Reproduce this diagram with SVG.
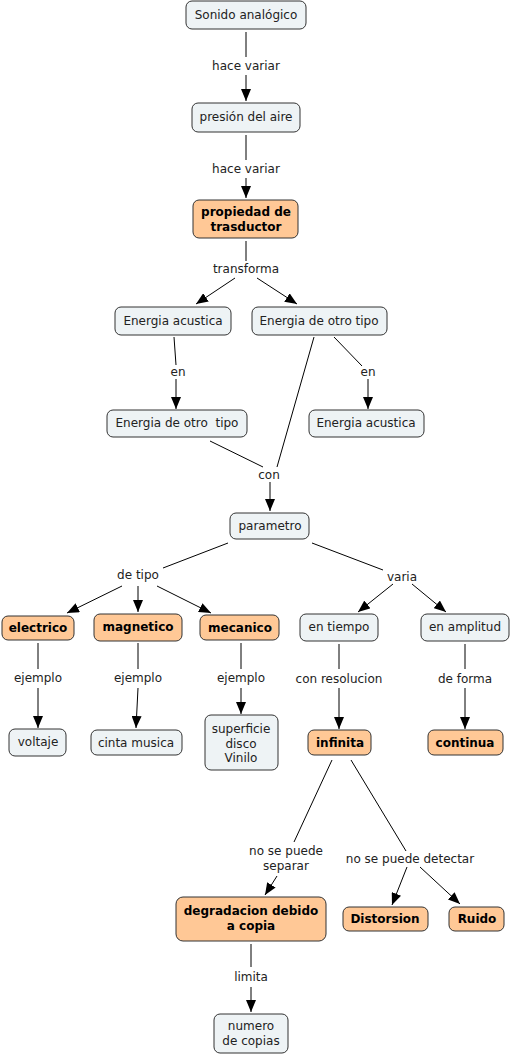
<svg xmlns="http://www.w3.org/2000/svg" width="511" height="1056" viewBox="0 0 511 1056">
<defs>
<marker id="ah" markerWidth="12" markerHeight="10" refX="12" refY="5" orient="auto" markerUnits="userSpaceOnUse">
<path d="M0,0 L12,5 L0,10 z" fill="#000"/>
</marker>
<style>
.n rect{fill:#eef3f5;stroke:#333;stroke-width:1}
.o rect{fill:#ffc896;stroke:#333;stroke-width:1}
text{font-family:"DejaVu Sans",Verdana,sans-serif;font-size:12px;fill:#222;text-anchor:middle;dominant-baseline:central}
.o text{font-weight:bold;fill:#000}
#connectors line{stroke:#000;stroke-width:1}
#connectors line.a{marker-end:url(#ah)}
.lb text{fill:#222}
</style>
</defs>
<rect width="511" height="1056" fill="#fff"/>
<g id="connectors">
<line x1="246" y1="32" x2="246" y2="57"/>
<line class="a" x1="246" y1="75" x2="246" y2="101"/>
<line x1="246" y1="135" x2="246" y2="160"/>
<line class="a" x1="246" y1="178" x2="246" y2="198"/>
<line x1="246" y1="241" x2="246" y2="261"/>
<line class="a" x1="235" y1="278" x2="196" y2="304"/>
<line class="a" x1="257" y1="278" x2="297" y2="304"/>
<line x1="174" y1="337" x2="176" y2="365"/>
<line class="a" x1="176" y1="379" x2="176" y2="409"/>
<line x1="334" y1="337" x2="362" y2="366"/>
<line class="a" x1="368" y1="379" x2="368" y2="409"/>
<line x1="210" y1="441" x2="263" y2="467"/>
<line x1="314" y1="337" x2="277" y2="467"/>
<line class="a" x1="270" y1="482" x2="270" y2="511"/>
<line x1="228" y1="543" x2="163" y2="568"/>
<line x1="312" y1="543" x2="383" y2="570"/>
<line class="a" x1="122" y1="586" x2="67" y2="613"/>
<line class="a" x1="138" y1="586" x2="138" y2="612"/>
<line class="a" x1="157" y1="586" x2="211" y2="613"/>
<line class="a" x1="393" y1="584" x2="358" y2="612"/>
<line class="a" x1="412" y1="584" x2="446" y2="612"/>
<line x1="38" y1="643" x2="38" y2="669"/>
<line class="a" x1="38" y1="688" x2="38" y2="728"/>
<line x1="138" y1="643" x2="138" y2="669"/>
<line class="a" x1="138" y1="688" x2="136" y2="728"/>
<line x1="241" y1="643" x2="241" y2="669"/>
<line class="a" x1="241" y1="688" x2="241" y2="714"/>
<line x1="339" y1="644" x2="339" y2="669"/>
<line class="a" x1="339" y1="688" x2="339" y2="729"/>
<line x1="465" y1="644" x2="465" y2="669"/>
<line class="a" x1="465" y1="688" x2="465" y2="729"/>
<line x1="332" y1="760" x2="294" y2="842"/>
<line x1="351" y1="760" x2="406" y2="851"/>
<line class="a" x1="277" y1="876" x2="265" y2="895"/>
<line class="a" x1="407" y1="867" x2="392" y2="905"/>
<line class="a" x1="420" y1="867" x2="460" y2="904"/>
<line x1="251" y1="944" x2="251" y2="967"/>
<line class="a" x1="251" y1="987" x2="251" y2="1012"/>
</g>
<g id="labels" class="lb">
<text x="246" y="66">hace variar</text>
<text x="246" y="169">hace variar</text>
<text x="246" y="269">transforma</text>
<text x="178" y="372">en</text>
<text x="368" y="372">en</text>
<text x="269" y="475">con</text>
<text x="138" y="575">de tipo</text>
<text x="402" y="577">varia</text>
<text x="38" y="678">ejemplo</text>
<text x="138" y="678">ejemplo</text>
<text x="241" y="678">ejemplo</text>
<text x="339" y="679">con resolucion</text>
<text x="465" y="679">de forma</text>
<text x="286" y="851">no se puede</text>
<text x="286" y="866">separar</text>
<text x="410" y="859">no se puede detectar</text>
<text x="251" y="977">limita</text>
</g>
<g id="n1" class="n"><rect x="186" y="1" width="120" height="28" rx="6"/><text x="246" y="15">Sonido analógico</text></g>
<g id="n2" class="n"><rect x="192" y="103" width="108" height="29" rx="6"/><text x="246" y="117">presión del aire</text></g>
<g id="n3" class="o"><rect x="193" y="200" width="105" height="38" rx="6"/><text x="246" y="212">propiedad de</text><text x="246" y="227">trasductor</text></g>
<g id="n4" class="n"><rect x="115" y="307" width="116" height="28" rx="6"/><text x="173" y="321">Energia acustica</text></g>
<g id="n5" class="n"><rect x="252" y="307" width="135" height="28" rx="6"/><text x="319" y="321">Energia de otro tipo</text></g>
<g id="n6" class="n"><rect x="107" y="410" width="140" height="27" rx="6"/><text x="177" y="423" xml:space="preserve">Energia de otro  tipo</text></g>
<g id="n7" class="n"><rect x="309" y="410" width="115" height="27" rx="6"/><text x="366" y="423">Energia acustica</text></g>
<g id="n8" class="n"><rect x="230" y="513" width="79" height="26" rx="6"/><text x="270" y="526">parametro</text></g>
<g id="n9" class="o"><rect x="2" y="616" width="72" height="24" rx="6"/><text x="38" y="628">electrico</text></g>
<g id="n10" class="o"><rect x="94" y="614" width="88" height="27" rx="6"/><text x="138" y="627">magnetico</text></g>
<g id="n11" class="o"><rect x="200" y="615" width="79" height="25" rx="6"/><text x="240" y="628">mecanico</text></g>
<g id="n12" class="n"><rect x="300" y="614" width="78" height="27" rx="6"/><text x="339" y="627">en tiempo</text></g>
<g id="n13" class="n"><rect x="421" y="614" width="88" height="27" rx="6"/><text x="465" y="627">en amplitud</text></g>
<g id="n14" class="n"><rect x="9" y="729" width="57" height="27" rx="6"/><text x="38" y="742">voltaje</text></g>
<g id="n15" class="n"><rect x="91" y="730" width="91" height="25" rx="6"/><text x="136" y="743">cinta musica</text></g>
<g id="n16" class="n"><rect x="205" y="715" width="73" height="55" rx="6"/><text x="241" y="729">superficie</text><text x="241" y="744">disco</text><text x="241" y="758">Vinilo</text></g>
<g id="n17" class="o"><rect x="308" y="730" width="63" height="25" rx="6"/><text x="340" y="743">infinita</text></g>
<g id="n18" class="o"><rect x="428" y="730" width="75" height="25" rx="6"/><text x="465" y="743">continua</text></g>
<g id="n19" class="o"><rect x="176" y="897" width="150" height="44" rx="7"/><text x="251" y="911">degradacion debido</text><text x="251" y="926">a copia</text></g>
<g id="n20" class="o"><rect x="343" y="907" width="85" height="24" rx="6"/><text x="385" y="919">Distorsion</text></g>
<g id="n21" class="o"><rect x="449" y="907" width="55" height="24" rx="6"/><text x="477" y="919">Ruido</text></g>
<g id="n22" class="n"><rect x="214" y="1014" width="74" height="39" rx="6"/><text x="251" y="1026">numero</text><text x="251" y="1041">de copias</text></g>
</svg>
